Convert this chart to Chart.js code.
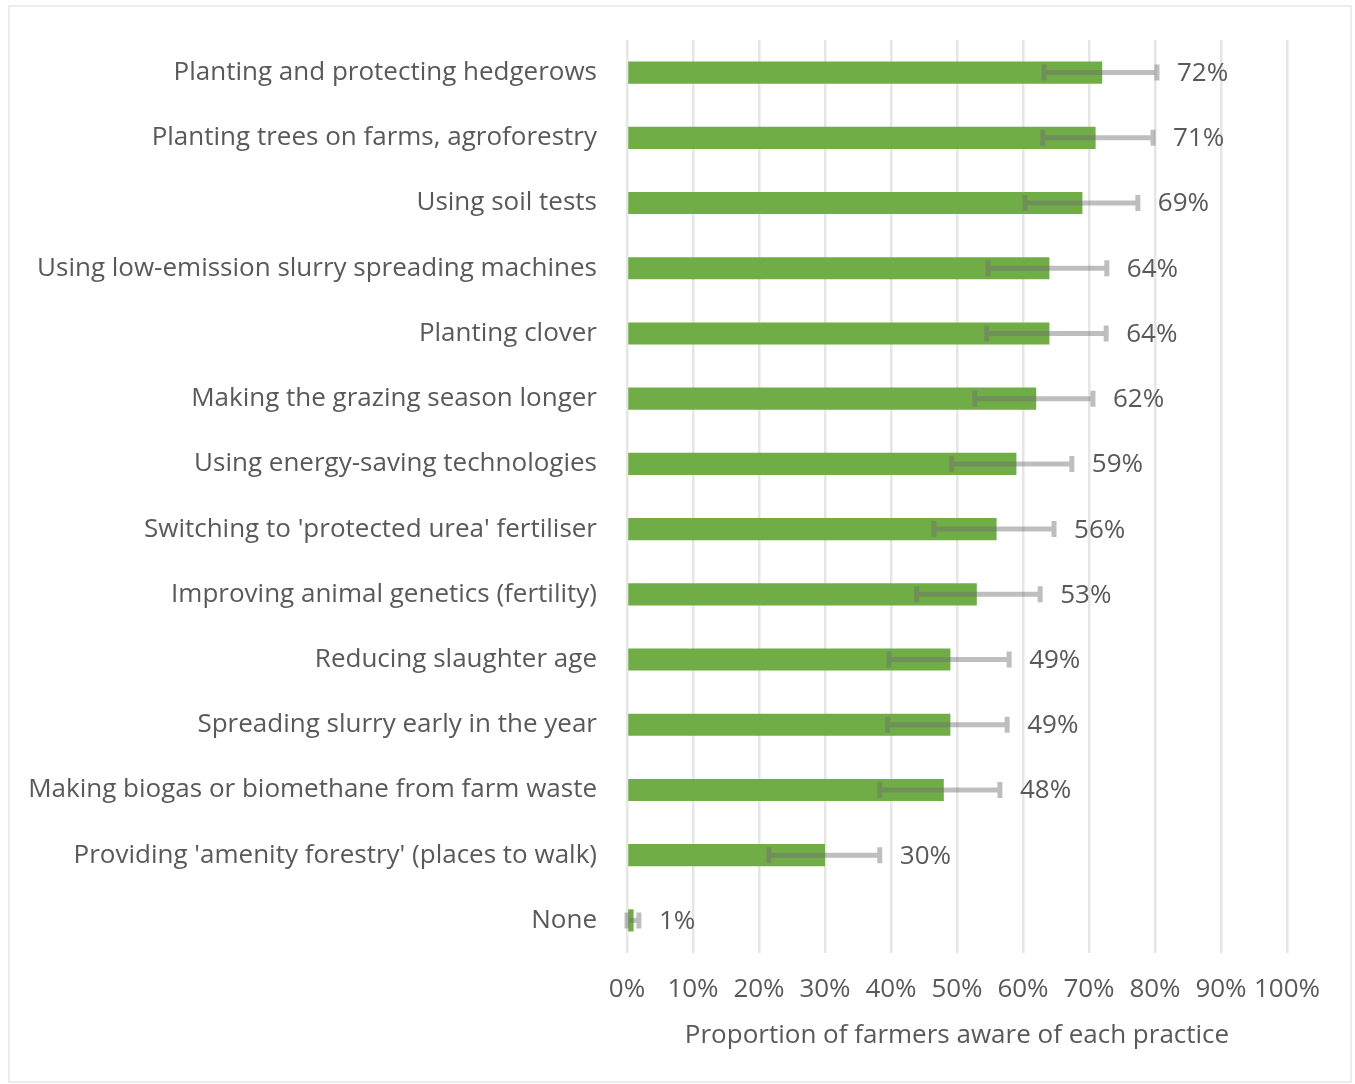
<!DOCTYPE html>
<html>
<head>
<meta charset="utf-8">
<script src="https://cdn.jsdelivr.net/npm/chart.js@4"></script>
<style>
  body { margin: 0; background: #ffffff; }
  #wrap { position: relative; width: 1355px; height: 1084px; }
  #frame { position: absolute; left: 8px; top: 5px; width: 1340px; height: 1074px; border: 2px solid #ececec; pointer-events: none; }
</style>
</head>
<body>
<div id="wrap">
  <canvas id="chart" width="1355" height="1084"></canvas>
  <div id="frame"></div>
</div>
<script>
// --- data ---
const practices = [
  'Planting and protecting hedgerows',
  'Planting trees on farms, agroforestry',
  'Using soil tests',
  'Using low-emission slurry spreading machines',
  'Planting clover',
  'Making the grazing season longer',
  'Using energy-saving technologies',
  "Switching to 'protected urea' fertiliser",
  'Improving animal genetics (fertility)',
  'Reducing slaughter age',
  'Spreading slurry early in the year',
  'Making biogas or biomethane from farm waste',
  "Providing 'amenity forestry' (places to walk)",
  'None'
];
const awareShare = [72, 71, 69, 64, 64, 62, 59, 56, 53, 49, 49, 48, 30, 1];
const errLow  = [63.2, 63.0, 60.3, 54.7, 54.5, 52.7, 49.2, 46.5, 43.9, 39.7, 39.5, 38.3, 21.5, 0];
const errHigh = [80.3, 79.7, 77.4, 72.7, 72.6, 70.6, 67.4, 64.7, 62.6, 57.9, 57.6, 56.5, 38.3, 1.8];
const tickValues = [0, 10, 20, 30, 40, 50, 60, 70, 80, 90, 100];

const TEXT = '#595959';
const FONT = '"Open Sans", "Noto Sans", sans-serif';

// error bars + percentage labels
const errorBarPlugin = {
  id: 'errorBars',
  afterDatasetsDraw(chart) {
    const ctx = chart.ctx;
    const xs = chart.scales.x;
    const ys = chart.scales.y;
    ctx.save();
    awareShare.forEach((v, i) => {
      const y = ys.getPixelForValue(i);
      const x0 = xs.getPixelForValue(errLow[i]);
      const x1 = xs.getPixelForValue(errHigh[i]);
      ctx.strokeStyle = 'rgba(110,110,110,0.45)';
      ctx.lineWidth = 5;
      ctx.beginPath();
      ctx.moveTo(x0, y); ctx.lineTo(x1, y);
      ctx.moveTo(x0, y - 8); ctx.lineTo(x0, y + 8);
      ctx.moveTo(x1, y - 8); ctx.lineTo(x1, y + 8);
      ctx.stroke();

      ctx.fillStyle = TEXT;
      ctx.font = '26px ' + FONT;
      ctx.textAlign = 'left';
      ctx.textBaseline = 'middle';
      ctx.fillText(v + '%', x1 + 20, y + 1);
    });
    ctx.restore();
  }
};

new Chart(document.getElementById('chart'), {
  type: 'bar',
  data: {
    labels: practices,
    datasets: [{
      data: awareShare,
      backgroundColor: '#70ad47',
      borderWidth: 0,
      barPercentage: 0.68,
      categoryPercentage: 0.5
    }]
  },
  options: {
    indexAxis: 'y',
    responsive: false,
    animation: false,
    layout: { padding: { top: 40, right: 68, bottom: 33, left: 0 } },
    plugins: { legend: { display: false }, tooltip: { enabled: false } },
    scales: {
      x: {
        min: 0,
        max: 100,
        afterBuildTicks: s => { s.ticks = tickValues.map(v => ({ value: v })); },
        afterFit: s => { s.height = 98; },
        ticks: {
          callback: v => v + '%',
          color: TEXT,
          font: { family: FONT, size: 26 },
          padding: 21,
          maxRotation: 0,
          autoSkip: false
        },
        grid: { color: '#e6e6e6', lineWidth: 2.5, drawTicks: false },
        border: { display: false },
        title: {
          display: true,
          text: 'Proportion of farmers aware of each practice',
          color: TEXT,
          font: { family: FONT, size: 26 },
          padding: { top: 0, bottom: 0 }
        }
      },
      y: {
        afterFit: s => { s.width = 627; },
        ticks: {
          color: TEXT,
          font: { family: FONT, size: 26 },
          padding: 22,
          autoSkip: false
        },
        grid: { display: false },
        border: { display: false }
      }
    }
  },
  plugins: [errorBarPlugin]
});
</script>
</body>
</html>
